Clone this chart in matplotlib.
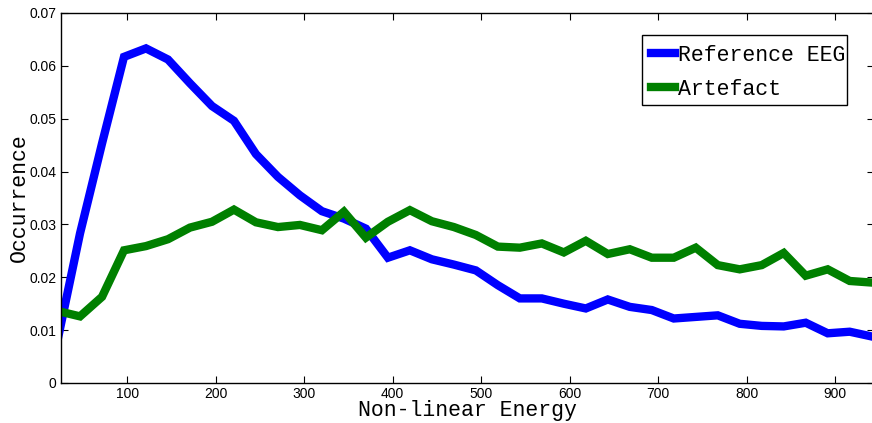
import matplotlib
matplotlib.use("Agg")
import matplotlib.pyplot as plt
from matplotlib.patches import Rectangle
import numpy as np

# x positions of histogram bins (Non-linear Energy)
x_start = 22.0
x_step = 24.84
n_points = 38
energy = [x_start + x_step * k for k in range(n_points)]

reference_eeg = [0.0085, 0.0283, 0.0453, 0.0617, 0.0633, 0.0612, 0.0567, 0.0524,
                 0.0496, 0.0433, 0.0390, 0.0355, 0.0325, 0.0311, 0.0292, 0.0237,
                 0.0251, 0.0234, 0.0224, 0.0213, 0.0185, 0.0160, 0.0160, 0.0150,
                 0.0141, 0.0158, 0.0144, 0.0138, 0.0122, 0.0125, 0.0128, 0.0112,
                 0.0108, 0.0107, 0.0114, 0.0094, 0.0097, 0.0088]

artefact = [0.0136, 0.0126, 0.0163, 0.0251, 0.0259, 0.0272, 0.0294, 0.0305,
            0.0328, 0.0304, 0.0295, 0.0299, 0.0289, 0.0324, 0.0275, 0.0305,
            0.0327, 0.0306, 0.0295, 0.0280, 0.0258, 0.0256, 0.0264, 0.0247,
            0.0269, 0.0244, 0.0253, 0.0237, 0.0237, 0.0256, 0.0223, 0.0215,
            0.0223, 0.0246, 0.0203, 0.0215, 0.0193, 0.0190]

x_ticks = [100, 200, 300, 400, 500, 600, 700, 800, 900]
y_ticks = [0, 0.01, 0.02, 0.03, 0.04, 0.05, 0.06, 0.07]
y_tick_labels = ["0", "0.01", "0.02", "0.03", "0.04", "0.05", "0.06", "0.07"]

W, H = 872, 423
fig = plt.figure(figsize=(W / 100, H / 100), dpi=100)
ax = fig.add_axes([0.0696, 0.0946, 0.933, 0.8747])

ax.plot(energy, reference_eeg, color=(0, 0, 1), lw=6, label="Reference EEG",
        solid_joinstyle="miter")
ax.plot(energy, artefact, color=(0, 0.5, 0), lw=6, label="Artefact",
        solid_joinstyle="miter")

ax.set_xlim(25, 944)
ax.set_ylim(0, 0.07)
ax.set_xticks(x_ticks)
ax.set_yticks(y_ticks)
ax.set_yticklabels(y_tick_labels)
ax.tick_params(direction="in", top=True, right=True, length=5, width=0.8,
               labelsize=10, pad=3)
for lab in ax.get_xticklabels() + ax.get_yticklabels():
    lab.set_fontfamily("Liberation Sans")
for sp in ax.spines.values():
    sp.set_linewidth(1.0)
    sp.set_color("black")

ax.set_xlabel("Non-linear Energy", fontfamily="Liberation Mono", fontsize=15.5,
              labelpad=-1)
ax.set_ylabel("Occurrence", fontfamily="Liberation Mono", fontsize=15.5,
              labelpad=0)

# legend box (white, black border), drawn in figure pixel coordinates
box_l, box_t, box_r, box_b = 641.7, 35.0, 847.3, 105.0
frame = Rectangle((box_l / W, 1 - box_b / H), (box_r - box_l) / W,
                  (box_b - box_t) / H, transform=fig.transFigure,
                  facecolor="white", edgecolor="black", lw=1.0, zorder=4)
fig.add_artist(frame)

leg = fig.legend(loc="upper left", bbox_to_anchor=(box_l / W, 1 - box_t / H),
                 prop={"family": "Liberation Mono", "size": 15.5},
                 frameon=False, handlelength=1.1, handletextpad=0.15,
                 borderpad=0.45, labelspacing=0.6, borderaxespad=0)
leg.set_zorder(5)

fig.savefig("out.png", dpi=100)
